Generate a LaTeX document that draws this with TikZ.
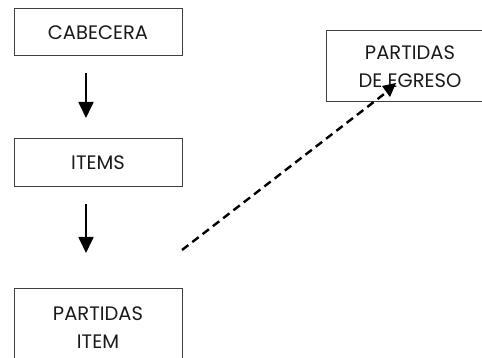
\documentclass[tikz,border=0pt]{standalone}
\usepackage{fontspec}
\setmainfont{Poppins}
\usetikzlibrary{arrows.meta}
\definecolor{boxline}{HTML}{404040}
\definecolor{ink}{HTML}{1A1A1A}
\tikzset{
  block/.style={draw=boxline, line width=1pt, minimum width=168pt, align=center,
    text=ink, font=\fontsize{19.5}{28}\selectfont, inner sep=0pt},
  flow/.style={line width=1.7pt, -{Triangle[width=15pt,length=16pt]}},
  link/.style={line width=2.4pt, dash pattern=on 8pt off 5pt},
}
\begin{document}
\begin{tikzpicture}[x=1pt,y=-1pt]
\useasboundingbox (0,0) rectangle (482,358);
\clip (0,0) rectangle (482,358);
\node[block, minimum height=47pt] (cab) at (98,32.5) {CABECERA};
\node[block, minimum height=48pt] (items) at (98,163) {ITEMS};
\node[block, minimum height=79pt] (pitem) at (98,327.5) {PARTIDAS\\ITEM};
\node[block, minimum height=71pt] (egr) at (410,66.5) {PARTIDAS\\DE EGRESO};
\coordinate (a1s) at (86,73);
\coordinate (a1e) at (86,118);
\coordinate (a2s) at (86,204);
\coordinate (a2e) at (86,253);
\draw[flow] (a1s) -- (a1e);
\draw[flow] (a2s) -- (a2e);
\coordinate (ds) at (182,250);
\coordinate (de) at (388,91);
\draw[link] (ds) -- (de);
\fill[black] (382,86) -- (396,83) -- (390,97) -- cycle;
\end{tikzpicture}
\end{document}
